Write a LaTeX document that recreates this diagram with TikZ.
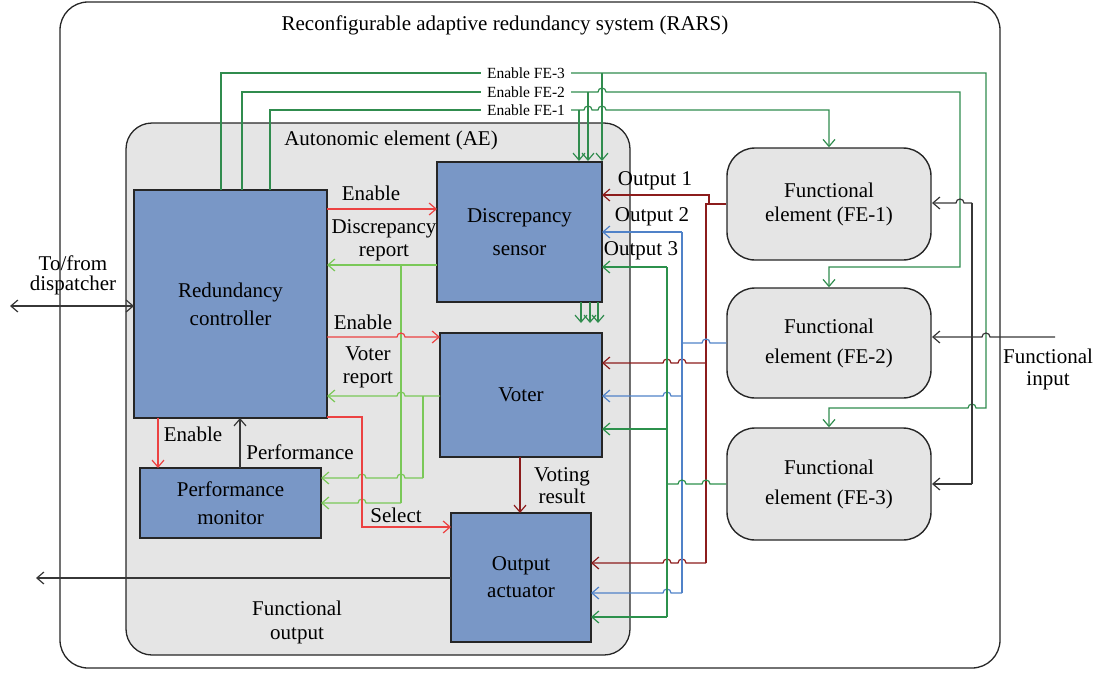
\documentclass[tikz,border=0pt]{standalone}
\usepackage{fontspec}
\setmainfont{Liberation Serif}
\usetikzlibrary{arrows.meta}

\definecolor{boxblue}{RGB}{121,151,198}
\definecolor{panel}{RGB}{229,229,229}
\definecolor{enred}{RGB}{236,66,66}
\definecolor{rptgreen}{RGB}{122,200,88}
\definecolor{fegreen}{RGB}{48,140,78}
\definecolor{outred}{RGB}{140,28,28}
\definecolor{outblue}{RGB}{80,130,200}
\definecolor{outgreen}{RGB}{44,145,76}
\definecolor{sig}{RGB}{55,55,55}

% small bridge where a horizontal wire jumps over a vertical one
\newcommand\hopR[2]{-- (#1-4,#2) arc[start angle=180,end angle=360,radius=4]}
\newcommand\hopL[2]{-- (#1+4,#2) arc[start angle=0,end angle=-180,radius=4]}

\begin{document}
\begin{tikzpicture}[x=1pt,y=-1pt,>={Straight Barb[length=7pt,width=12pt]}]
\useasboundingbox (0,0) rectangle (1097,672);
\tikzset{
  frame/.style={draw=black!85, line width=1.3pt, inner sep=0pt},
  unit/.style={draw=black!85, line width=1.4pt, fill=boxblue, align=center, inner sep=0pt},
  fe/.style={draw=black!85, line width=1.4pt, fill=panel, rounded corners=28pt, align=center, inner sep=0pt, minimum width=204pt},
  lbl/.style={align=center, inner sep=0pt, font=\fontsize{21}{23}\selectfont},
  felbl/.style={inner sep=6pt, font=\fontsize{15.5}{17}\selectfont},
  wire/.style={line width=1.2pt},
  fewire/.style={wire, draw=fegreen},
  enwire/.style={wire, draw=enred},
  rptwire/.style={wire, draw=rptgreen},
  sigwire/.style={wire, draw=sig},
  oAwire/.style={wire, draw=outred},
  oBwire/.style={wire, draw=outblue},
  oCwire/.style={wire, draw=outgreen},
}

% enclosing system and autonomic element
\node[frame, minimum width=940pt, minimum height=666pt, rounded corners=28pt] (rars) at (530,335) {};
\node[frame, fill=panel, minimum width=504pt, minimum height=532pt, rounded corners=26pt] (ae) at (378,389) {};
\node[lbl] (title) at (505,25) {Reconfigurable adaptive redundancy system (RARS)};
\node[lbl] (aetitle) at (391,140) {Autonomic element (AE)};

% units of the autonomic element
\node[unit, minimum width=193pt, minimum height=228pt, font=\fontsize{21}{28}\selectfont] (rc) at (230.5,304) {Redundancy\\controller};
\node[unit, minimum width=165pt, minimum height=140pt, font=\fontsize{21}{33}\selectfont] (ds) at (519.5,232) {Discrepancy\\sensor};
\node[unit, minimum width=162pt, minimum height=124pt, font=\fontsize{21}{24}\selectfont] (vt) at (521,395) {Voter};
\node[unit, minimum width=181pt, minimum height=70pt, font=\fontsize{21}{28}\selectfont] (pm) at (230.5,503) {Performance\\monitor};
\node[unit, minimum width=140pt, minimum height=129pt, font=\fontsize{21}{27}\selectfont] (oa) at (521,577.5) {Output\\actuator};

% functional elements
\node[fe, minimum height=112pt, font=\fontsize{21}{24}\selectfont] (fe1) at (829,204) {Functional\\element (FE-1)};
\node[fe, minimum height=110pt, font=\fontsize{21}{30}\selectfont] (fe2) at (829,343) {Functional\\element (FE-2)};
\node[fe, minimum height=112pt, font=\fontsize{21}{30}\selectfont] (fe3) at (829,484) {Functional\\element (FE-3)};

% enable lines from the controller to the functional elements
\node[felbl] (en3) at (526,73) {Enable FE-3};
\node[felbl] (en2) at (526,92) {Enable FE-2};
\node[felbl] (en1) at (526,110) {Enable FE-1};
\draw[fewire] (221,190) -- (221,73) -- (en3.west);
\draw[fewire,->] (en3.east) -- (986,73) -- (986,408) \hopL{972}{408} -- (829,408) -- (fe3.north);
\draw[fewire,->] (602,73) -- (602,161);
\draw[fewire] (242,190) -- (242,92) -- (en2.west);
\draw[fewire,->] (en2.east) \hopR{602}{92} -- (960,92) -- (960,267) -- (829,267) -- (fe2.north);
\draw[fewire,->] (588,92) -- (588,161);
\draw[fewire] (270,190) -- (270,110) -- (en1.west);
\draw[fewire,->] (en1.east) \hopR{588}{110} \hopR{602}{110} -- (829,110) -- (fe1.north);
\draw[fewire,->] (579,110) -- (579,161);
\foreach \x in {581,590,598} \draw[fewire,->] (\x,302) -- (\x,323);

% controller signals inside the autonomic element
\draw[enwire,->] (327,209) -- (437,209);
\draw[rptwire,->] (437,265) -- (327,265);
\draw[rptwire] (401,265) -- (401,503);
\draw[rptwire,->] (401,503) \hopL{362}{503} -- (321,503);
\draw[enwire,->] (327,337) \hopR{401}{337} -- (440,337);
\draw[rptwire,->] (440,396) \hopL{401}{396} -- (327,396);
\draw[rptwire] (423,396) -- (423,478);
\draw[rptwire,->] (423,478) \hopL{401}{478} \hopL{362}{478} -- (321,478);
\draw[enwire,->] (327,417) -- (362,417) -- (362,527) -- (451,527);
\draw[enwire,->] (158,418) -- (158,468);
\draw[sigwire,->] (240,468) -- (240,418);
\draw[oAwire,->] (520,457) -- (520,513);

\node[lbl] (lEnA) at (371,193) {Enable};
\node[lbl] (lDrep) at (384,240) {Discrepancy\\report};
\node[lbl] (lEnB) at (363,322) {Enable};
\node[lbl] (lVrep) at (368,367) {Voter\\report};
\node[lbl] (lEnC) at (193,434) {Enable};
\node[lbl] (lPerf) at (300,452) {Performance};
\node[lbl] (lSel) at (396,515) {Select};
\node[lbl, font=\fontsize{21}{22}\selectfont] (lVote) at (562,486) {Voting\\result};

% outputs of the functional elements
\draw[oAwire,->] (fe1.west) -- (709,204) -- (709,195) -- (602,195);
\draw[oAwire] (fe1.west) -- (706,204) -- (706,563);
\draw[oAwire,->] (706,363) \hopL{682}{363} \hopL{667}{363} -- (602,363);
\draw[oAwire,->] (706,563) \hopL{682}{563} \hopL{667}{563} -- (591,563);
\draw[oBwire] (fe2.west) \hopL{706}{343} -- (682,343);
\draw[oBwire] (682,232) -- (682,593);
\draw[oBwire,->] (682,232) -- (602,232);
\draw[oBwire,->] (682,396) \hopL{667}{396} -- (602,396);
\draw[oBwire,->] (682,593) \hopL{667}{593} -- (591,593);
\draw[oCwire] (fe3.west) \hopL{706}{484} \hopL{682}{484} -- (667,484);
\draw[oCwire] (667,267) -- (667,617);
\draw[oCwire,->] (667,267) -- (602,267);
\draw[oCwire,->] (667,429) -- (602,429);
\draw[oCwire,->] (667,617) -- (591,617);
\node[lbl] (lOutA) at (655,181) {Output 1};
\node[lbl] (lOutB) at (652,217) {Output 2};
\node[lbl] (lOutC) at (641,251) {Output 3};

% functional input
\draw[sigwire,->] (1055,337) \hopL{986}{337} -- (932,337);
\draw[sigwire] (972,203) -- (972,484);
\draw[sigwire,->] (972,203) \hopL{960}{203} -- (932,203);
\draw[sigwire,->] (972,484) -- (932,484);
\node[lbl, font=\fontsize{21}{22}\selectfont] (lIn) at (1048,369) {Functional\\input};

% dispatcher link and functional output
\draw[sigwire,<->] (10,306) -- (134,306);
\node[lbl, font=\fontsize{21}{20}\selectfont] (lDisp) at (73,275) {To/from\\dispatcher};
\draw[sigwire,->] (451,578) -- (36,578);
\node[lbl, font=\fontsize{21}{24}\selectfont] (lOut) at (297,622) {Functional\\output};
\end{tikzpicture}
\end{document}
